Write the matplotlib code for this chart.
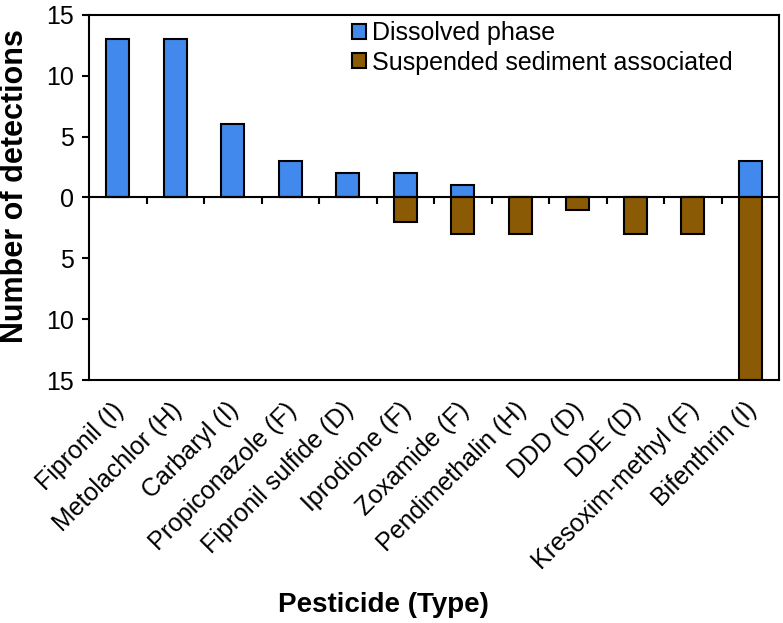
import numpy as np
import matplotlib.pyplot as plt
import matplotlib.transforms as mtransforms
from matplotlib.patches import Patch

plt.rcParams['font.family'] = ['Liberation Sans', 'DejaVu Sans']

# данные
pesticides = ['Fipronil (I)', 'Metolachlor (H)', 'Carbaryl (I)', 'Propiconazole (F)',
              'Fipronil sulfide (D)', 'Iprodione (F)', 'Zoxamide (F)', 'Pendimethalin (H)',
              'DDD (D)', 'DDE (D)', 'Kresoxim-methyl (F)', 'Bifenthrin (I)']
dissolved = [13, 13, 6, 3, 2, 2, 1, 0, 0, 0, 0, 3]
suspended = [0, 0, 0, 0, 0, 2, 3, 3, 1, 3, 3, 15]
yticks = [-15, -10, -5, 0, 5, 10, 15]

blue = '#4189EC'
brown = '#8A5A04'

fig = plt.figure(figsize=(7.83, 6.23), dpi=100)
ax = fig.add_axes([0.1137, 0.390, 0.8812, 0.586])

x = np.arange(len(pesticides))
ax.bar(x, dissolved, width=0.4, color=blue, edgecolor='black', linewidth=1.5, zorder=2)
ax.bar(x, -np.array(suspended), width=0.4, color=brown, edgecolor='black', linewidth=1.5, zorder=2)

# линия нуля и деления между категориями
ax.axhline(0, color='black', linewidth=1.5, zorder=3)
ax.vlines(x[:-1] + 0.5, -0.55, 0, color='black', linewidth=1.5, zorder=3)

ax.set_xlim(-0.5, len(pesticides) - 0.5)
ax.set_ylim(-15, 15)
ax.set_yticks(yticks)
ax.set_yticklabels([str(abs(v)) for v in yticks], fontsize=18)
ax.tick_params(axis='y', direction='out', length=5, width=1.5, pad=6)

ax.set_xticks(x)
ax.set_xticklabels(pesticides, rotation=45, ha='right', rotation_mode='anchor', fontsize=18)
ax.tick_params(axis='x', length=0, pad=13)
shift = mtransforms.ScaledTranslation(-6 / 100, 0, fig.dpi_scale_trans)
for lbl in ax.get_xticklabels():
    lbl.set_transform(lbl.get_transform() + shift)

for s in ax.spines.values():
    s.set_linewidth(1.5)

ax.set_ylabel('Number of detections', fontsize=22, fontweight='bold')
ax.yaxis.set_label_coords(-0.085, 0.532)
ax.set_xlabel('Pesticide (Type)', fontsize=20, fontweight='bold')
ax.xaxis.set_label_coords(0.426, -0.58)

handles = [Patch(facecolor=blue, edgecolor='black', linewidth=1.5, label='Dissolved phase'),
           Patch(facecolor=brown, edgecolor='black', linewidth=1.5, label='Suspended sediment associated')]
ax.legend(handles=handles, loc='upper left', bbox_to_anchor=(0.378, 0.99), frameon=False,
          borderaxespad=0, borderpad=0.1, fontsize=18, handlelength=0.55, handleheight=0.55,
          handletextpad=0.25, labelspacing=0.22)

plt.savefig('out.png', dpi=100)
